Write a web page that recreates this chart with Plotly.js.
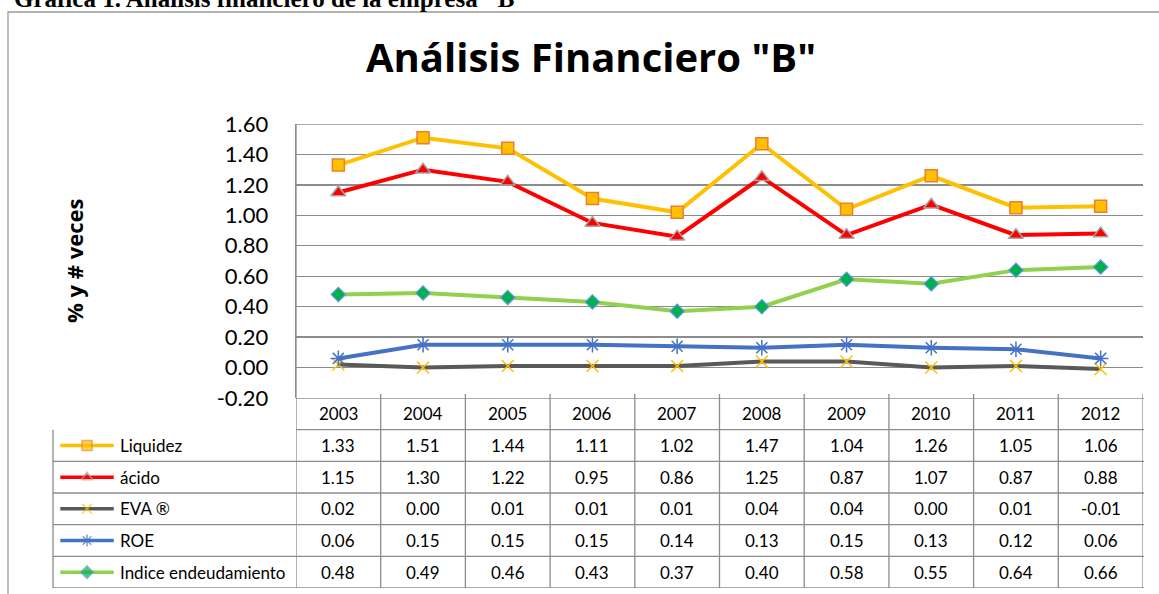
<!DOCTYPE html>
<html>
<head>
<meta charset="utf-8">
<script src="https://cdn.plot.ly/plotly-3.0.1.min.js"></script>
<style>
html, body { margin: 0; padding: 0; background: #fff; }
#chart { width: 1159px; height: 594px; }
</style>
</head>
<body>
<div id="chart"></div>
<script>
// data
const years = ['2003', '2004', '2005', '2006', '2007', '2008', '2009', '2010', '2011', '2012'];
const liquidez = [1.33, 1.51, 1.44, 1.11, 1.02, 1.47, 1.04, 1.26, 1.05, 1.06];
const acido = [1.15, 1.30, 1.22, 0.95, 0.86, 1.25, 0.87, 1.07, 0.87, 0.88];
const eva = [0.02, 0.00, 0.01, 0.01, 0.01, 0.04, 0.04, 0.00, 0.01, -0.01];
const roe = [0.06, 0.15, 0.15, 0.15, 0.14, 0.13, 0.15, 0.13, 0.12, 0.06];
const endeudamiento = [0.48, 0.49, 0.46, 0.43, 0.37, 0.40, 0.58, 0.55, 0.64, 0.66];
const seriesNames = ['Liquidez', 'ácido', 'EVA ®', 'ROE', 'Indice endeudamiento'];
const seriesValues = [liquidez, acido, eva, roe, endeudamiento];
const yTicks = [-0.2, 0, 0.2, 0.4, 0.6, 0.8, 1.0, 1.2, 1.4, 1.6];
const yTickText = ['-0.20', '0.00', '0.20', '0.40', '0.60', '0.80', '1.00', '1.20', '1.40', '1.60'];

// looks, one per series
const styles = [
    {line: '#FFC000', symbol: 'square', fill: '#FFC000', edge: '#ED7D31', edgeW: 1.5, size: 12},
    {line: '#FF0000', symbol: 'triangle-up', fill: '#FF0000', edge: '#A5A5A5', edgeW: 1.5, size: 13},
    {line: '#595959', symbol: 'x-thin-open', fill: '#FFC000', edge: '#FFC000', edgeW: 1.5, size: 12},
    {line: '#4472C4', symbol: 'asterisk-open', fill: '#4472C4', edge: '#4472C4', edgeW: 1.5, size: 13},
    {line: '#92D050', symbol: 'diamond', fill: '#00B050', edge: '#5B9BD5', edgeW: 1.2, size: 11}
];

const W = 1159, H = 594;
const px = x => x / W;
const py = y => 1 - y / H;
const FONT = 'Lato, "Open Sans", sans-serif';
const BOLD = '"Open Sans", Lato, sans-serif';
const GRID = '#8c8c8c';

let traces = seriesValues.map((vals, s) => ({
    x: years,
    y: vals,
    type: 'scatter',
    mode: 'lines+markers',
    name: seriesNames[s],
    line: {color: styles[s].line, width: 4},
    marker: {
        symbol: styles[s].symbol,
        size: styles[s].size,
        color: styles[s].fill,
        line: {color: styles[s].edge, width: styles[s].edgeW}
    },
    showlegend: false,
    hoverinfo: 'x+y+name'
}));

// legend keys in the first column of the table
seriesNames.forEach((name, s) => {
    traces.push({
        x: [0.03, 0.14, 0.25],
        y: [s + 1, s + 1, s + 1],
        xaxis: 'x3',
        yaxis: 'y2',
        type: 'scatter',
        mode: 'lines+markers',
        line: {color: styles[s].line, width: 3.5},
        marker: {
            symbol: styles[s].symbol,
            size: [0, 10, 0],
            color: styles[s].fill,
            line: {color: styles[s].edge, width: styles[s].edgeW}
        },
        showlegend: false,
        hoverinfo: 'skip'
    });
});

let annotations = [];
let shapes = [];
const cellFont = {family: FONT, size: 17, color: '#000'};

// table header (years) and values; category positions are their index
years.forEach((yr, i) => {
    annotations.push({x: i, y: 0, xref: 'x', yref: 'y2', text: yr, showarrow: false, font: cellFont});
    seriesValues.forEach((vals, s) => {
        annotations.push({x: i, y: s + 1, xref: 'x', yref: 'y2', text: vals[i].toFixed(2),
            showarrow: false, font: cellFont});
    });
});
seriesNames.forEach((name, s) => {
    annotations.push({x: 0.267, y: s + 1, xref: 'x3', yref: 'y2', text: name, xanchor: 'left',
        showarrow: false, font: cellFont});
});

// axis title
annotations.push({x: px(57), y: py(261), xref: 'paper', yref: 'paper', text: '<b>% y # veces</b>',
    textangle: -90, showarrow: false, font: {family: BOLD, size: 22, color: '#000'}});

// page heading, mostly cut off at the top
annotations.push({x: px(12), y: py(14), xref: 'paper', yref: 'paper', xanchor: 'left', yanchor: 'bottom',
    text: '<b>Gráfica 1. Análisis financiero de la empresa "B"</b>', showarrow: false,
    font: {family: '"Liberation Serif", serif', size: 25, color: '#000'}});

// table grid
const tl = {color: GRID, width: 1.3};
for (let r = -1; r <= 5; r++) {
    shapes.push({type: 'line', xref: 'paper', yref: 'y2',
        x0: r <= 0 ? px(296) : px(53), x1: px(1144), y0: r + 0.5, y1: r + 0.5, line: tl});
}
for (let c = 0; c <= 10; c++) {
    shapes.push({type: 'line', xref: 'x', yref: 'paper', x0: c - 0.5, x1: c - 0.5,
        y0: py(588), y1: c === 0 ? py(124) : py(394), line: tl});
}
shapes.push({type: 'line', xref: 'paper', yref: 'y2', x0: px(53), x1: px(53), y0: 0.5, y1: 5.5, line: tl});
// top edge of plot area
shapes.push({type: 'line', xref: 'paper', yref: 'y', x0: px(296), x1: px(1143), y0: 1.6, y1: 1.6, line: tl});

// outer chart frame
shapes.push({type: 'rect', xref: 'paper', yref: 'paper', x0: px(8), x1: px(1175), y0: py(12), y1: py(610),
    line: {color: '#9a9a9a', width: 1.3}});

const layout = {
    width: W,
    height: H,
    margin: {l: 0, r: 0, t: 0, b: 0},
    paper_bgcolor: '#fff',
    plot_bgcolor: '#fff',
    title: {
        text: 'Análisis Financiero "B"',
        font: {family: BOLD, size: 40, color: '#000', weight: 'bold'},
        x: px(591), xanchor: 'center',
        y: py(58), yanchor: 'middle'
    },
    xaxis: {
        type: 'category',
        domain: [px(296), px(1143)],
        range: [-0.5, 9.5],
        showticklabels: false,
        showgrid: false,
        zeroline: false,
        showline: false,
        anchor: 'y',
        fixedrange: true
    },
    yaxis: {
        domain: [py(398), py(124)],
        range: [-0.2, 1.6],
        tickmode: 'array',
        tickvals: yTicks,
        ticktext: yTickText,
        showgrid: true,
        gridcolor: GRID,
        gridwidth: 1.3,
        zeroline: false,
        showline: true,
        linecolor: GRID,
        linewidth: 1.3,
        ticks: '',
        ticklabelstandoff: 22,
        tickfont: {family: FONT, size: 22, color: '#000'},
        anchor: 'x',
        fixedrange: true
    },
    yaxis2: {
        domain: [py(588), py(398)],
        range: [5.5, -0.5],
        showticklabels: false,
        showgrid: false,
        zeroline: false,
        anchor: 'x',
        fixedrange: true
    },
    xaxis3: {
        domain: [px(53), px(296)],
        range: [0, 1],
        showticklabels: false,
        showgrid: false,
        zeroline: false,
        anchor: 'y2',
        fixedrange: true
    },
    annotations: annotations,
    shapes: shapes
};

Plotly.newPlot('chart', traces, layout, {displayModeBar: false, staticPlot: true});
</script>
</body>
</html>
